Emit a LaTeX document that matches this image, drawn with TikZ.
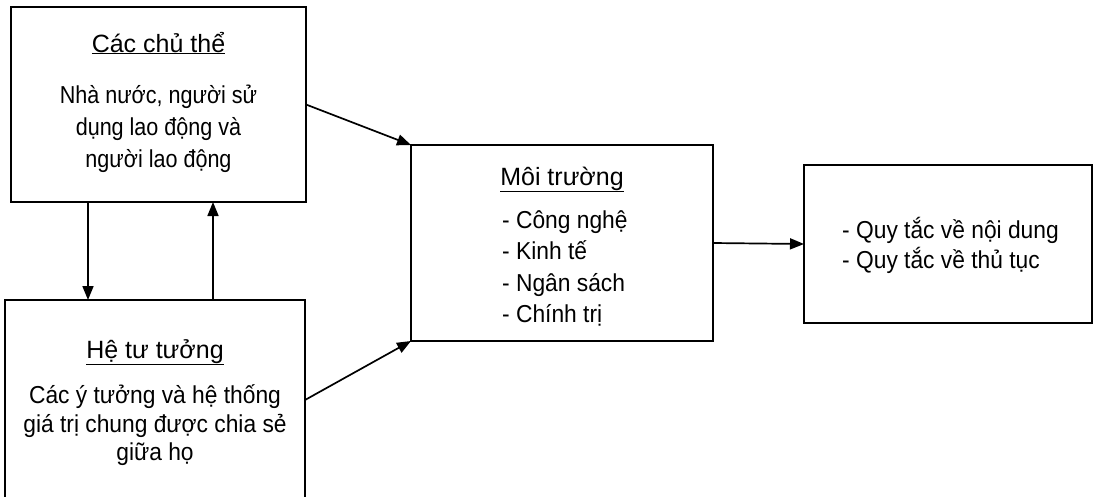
\documentclass[tikz,border=0pt]{standalone}
\usepackage{fontspec}
\setmainfont{Liberation Sans}
\newfontfamily\narrowA[FakeStretch=0.88]{Liberation Sans}
\newfontfamily\narrowB[FakeStretch=0.93]{Liberation Sans}
\usetikzlibrary{arrows.meta,calc}
\begin{document}
\begin{tikzpicture}[x=1pt,y=-1pt,
  box/.style={draw, line width=1.9pt, inner sep=0pt, outer sep=0pt},
  arr/.style={-{Triangle[length=14pt,width=11pt]}, line width=1.7pt},
  txt/.style={font=\fontsize{25}{32}\selectfont, inner sep=0pt},
  txta/.style={font=\narrowA\fontsize{24.5}{32}\selectfont, inner sep=0pt},
  txtb/.style={font=\narrowB\fontsize{24.5}{32}\selectfont, inner sep=0pt}]
\useasboundingbox (0,0) rectangle (1093,496);
% boxes
\node[box, minimum width=295pt, minimum height=195pt] (b1) at (158.5,104.5) {};
\node[box, minimum width=300pt, minimum height=200pt] (b2) at (155,400) {};
\node[box, minimum width=302pt, minimum height=196pt] (b3) at (562,243) {};
\node[box, minimum width=288pt, minimum height=158pt] (b4) at (948,244) {};
% texts
\node[txt, anchor=base] (t1) at (158.5,52) {\underline{Các chủ thể}};
\node[txta, anchor=base] (t1a) at (158.5,103) {Nhà nước, người sử};
\node[txta, anchor=base] (t1b) at (158.5,135) {dụng lao động và};
\node[txta, anchor=base] (t1c) at (158.5,167) {người lao động};
\node[txt, anchor=base] (t2) at (155,358) {\underline{Hệ tư tưởng}};
\node[txtb, anchor=base] (t2a) at (155,403) {Các ý tưởng và hệ thống};
\node[txtb, anchor=base] (t2b) at (155,432) {giá trị chung được chia sẻ};
\node[txtb, anchor=base] (t2c) at (155,460) {giữa họ};
\node[txt, anchor=base] (t3) at (562,185) {\underline{Môi trường}};
\node[txtb, anchor=base west] (t3a) at (502,228) {- Công nghệ};
\node[txtb, anchor=base west] (t3b) at (502,259.5) {- Kinh tế};
\node[txtb, anchor=base west] (t3c) at (502,291) {- Ngân sách};
\node[txtb, anchor=base west] (t3d) at (502,322.5) {- Chính trị};
\node[txtb, anchor=base west] (t4a) at (842,238) {- Quy tắc về nội dung};
\node[txtb, anchor=base west] (t4b) at (842,268) {- Quy tắc về thủ tục};
% connectors
\path (b1.south west) ++(77,0) coordinate (d1);
\path (b1.south west) ++(202,0) coordinate (u1);
\draw[arr] (d1) -- (d1 |- b2.north);
\draw[arr] (u1 |- b2.north) -- (u1);
\draw[arr] (b1.east) -- (b3.north west);
\draw[arr] (b2.east) -- (b3.south west);
\draw[arr] (b3.east) -- (b4.west);
\end{tikzpicture}
\end{document}
